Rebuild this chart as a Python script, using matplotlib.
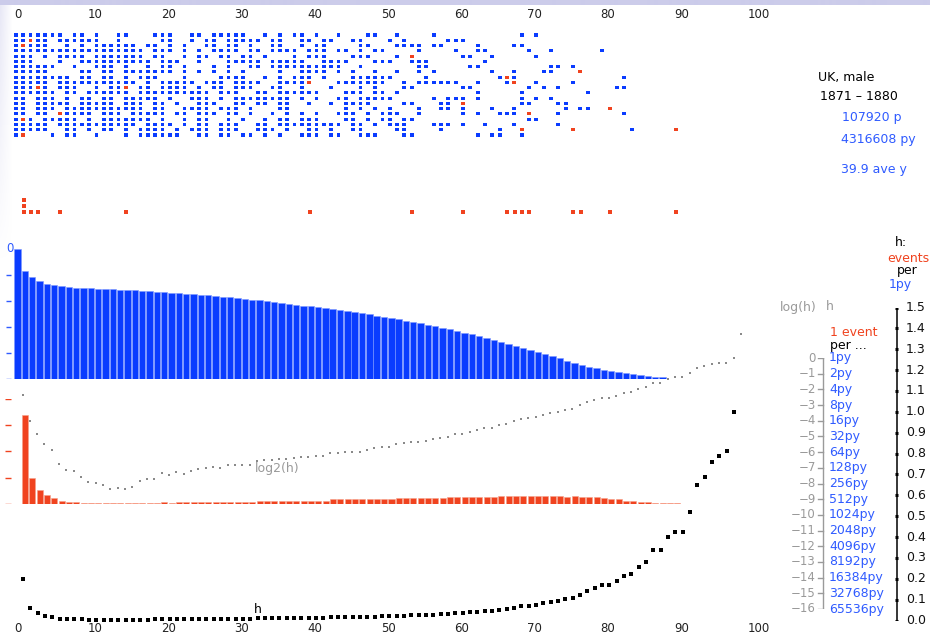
import numpy as np
import matplotlib.pyplot as plt

W, H = 930, 635
X0, XS = 14.3, 7.33          # age 0 starts at px 14.3, one year = 7.33 px

BLUE = '#0a3cff'
LBLUE = '#2f5bff'
RED = '#f0431f'
GRAY = '#9a9a9a'

# ---- data ----
axis_ticks = [0, 10, 20, 30, 40, 50, 60, 70, 80, 90, 100]

# dot grid: filled columns (ages) for each of the 20 rows
grid_rows = [
    [0,1,2,3,4,5,6,8,9,11,14,15,19,20,21,24,25,27,28,29,30,31,34,36,38,39,41,44,48,49,52,57,69,71],
    [0,1,2,3,4,6,7,8,9,10,11,14,20,21,24,26,27,29,30,31,32,33,35,36,39,40,42,43,46,47,51,53,59,60,61],
    [0,1,2,3,4,7,9,11,12,13,14,15,16,18,19,21,23,26,27,29,30,32,35,36,39,41,42,47,48,52,53,54,55,57,58,63,68,69],
    [0,1,2,3,4,5,6,7,8,9,10,11,12,13,14,15,16,17,19,20,21,23,25,27,28,29,30,32,33,35,36,37,38,40,41,42,44,45,47,49,50,55,60,63,64,70,73,80],
    [0,1,2,4,6,7,8,9,11,12,13,14,15,16,17,19,20,23,25,26,28,29,31,32,34,38,40,41,42,46,47,48,52,54,61,62,65,71],
    [0,1,2,6,9,10,11,12,13,14,15,16,17,18,20,21,22,25,29,30,31,32,33,35,36,37,38,39,42,43,44,45,49,50,51,54,55,56,64],
    [0,1,2,3,4,5,8,11,12,13,15,18,20,21,23,27,29,32,33,35,36,37,38,39,40,41,42,43,44,47,55,56,62,63,73,74,76],
    [0,1,2,3,4,9,10,12,13,15,16,17,18,19,20,21,23,25,27,29,31,36,39,40,41,42,44,46,49,52,55,57,65,68,72,73,77],
    [0,1,2,3,4,5,6,7,9,10,12,13,15,17,18,19,23,28,29,30,31,34,36,38,39,40,42,46,47,48,49,50,51,56,66,67,68,83],
    [0,1,2,3,4,6,7,8,9,10,11,12,13,14,15,16,18,20,21,22,23,24,26,27,28,30,31,32,33,36,37,38,39,40,44,45,46,47,48,49,50,53,55,56,57,58,59,60,63,67,68,71,76],
    [0,1,2,3,4,6,7,8,11,13,14,15,17,18,20,21,22,23,25,27,28,30,31,32,35,36,39,43,47,49,53,54,61,62,70,72,74,82,83],
    [0,1,2,3,4,5,7,8,10,11,12,13,14,15,17,18,19,20,21,22,23,24,25,26,28,29,30,33,34,36,37,38,39,40,41,45,46,47,49,50,52,63,69,78],
    [0,1,3,4,5,7,9,10,12,13,15,16,17,18,19,21,24,25,26,28,30,31,32,33,34,35,36,37,39,41,44,45,47,48,49,50,51,57,59,60,61,63,69,71,73],
    [0,1,3,4,5,6,7,9,10,11,12,13,15,16,17,19,20,22,25,26,27,30,31,33,34,36,37,40,43,45,46,47,48,53,54,58,59,61,69,70,74,75],
    [0,1,3,4,5,7,8,9,10,11,12,13,14,15,16,17,19,20,23,24,25,26,28,29,30,32,36,37,45,47,49,51,55,58,59,61,65,68,75,77,78,81],
    [0,1,3,4,6,7,8,9,10,12,13,14,16,17,18,19,20,22,23,25,26,27,29,30,32,35,37,39,41,44,45,46,48,50,51,52,55,61,63,66,67,68,70,74,83],
    [0,1,2,4,5,6,7,8,10,12,13,14,15,16,17,18,20,23,25,26,29,31,34,36,37,39,40,41,45,46,48,50,51,53,54,70,71],
    [0,1,2,3,4,6,7,8,9,10,11,12,13,14,15,16,18,19,20,21,23,25,26,28,29,30,33,34,36,37,38,39,40,41,42,43,44,46,47,49,51,52,53,57,58,59,61,64,68,74],
    [0,1,2,3,4,7,8,10,12,13,15,17,18,19,20,22,24,25,26,28,29,30,33,34,35,37,40,41,43,46,47,52,53,58,66,69,76,84,90],
    [0,1,5,7,8,11,15,17,18,19,20,21,22,25,26,28,29,31,32,34,36,39,40,41,43,44,47,48,49,53,54,63,65,66,69],
]
# (row, age) cells that are events
red_cells = [(2, 1), (16, 1), (19, 1), (1, 2), (10, 3), (15, 6), (10, 15), (9, 40),
             (4, 54), (13, 61), (8, 67), (9, 68), (18, 69), (15, 70), (18, 76),
             (7, 77), (14, 81), (18, 90)]

# survivors (share of starting population), ages 0..88
survivors = [1.0, .827, .778, .748, .729, .722, .714, .706, .698, .698,
             .698, .688, .688, .688, .681, .681, .681, .673, .673, .665,
             .665, .658, .658, .650, .650, .642, .642, .635, .627, .627,
             .619, .612, .604, .604, .596, .588, .581, .573, .565, .558,
             .558, .550, .543, .535, .527, .518, .510, .502, .493, .484,
             .475, .466, .456, .445, .434, .424, .413, .402, .390, .379,
             .366, .353, .339, .325, .311, .297, .282, .267, .252, .235,
             .219, .204, .188, .172, .157, .135, .119, .104, .088, .081,
             .065, .058, .048, .040, .032, .025, .017, .009, .009]

# deaths per 1000 births, ages 0..89
deaths = [169, 50, 26.6, 16.5, 12, 6.3, 3.8, 3.8, 1.9, 1.9,
          1.9, 1.9, 1.9, 1.9, 1.9, 1.9, 1.9, 1.9, 1.9, 3.8,
          1.9, 3.8, 3.8, 3.8, 3.8, 3.8, 3.8, 3.8, 3.8, 3.8,
          3.8, 3.8, 6.0, 6.0, 6.0, 6.0, 6.0, 6.0, 6.0, 6.0,
          6.0, 6.0, 8.9, 8.9, 8.9, 8.9, 8.9, 8.9, 8.9, 8.9,
          8.9, 10.8, 10.8, 10.8, 10.8, 10.8, 10.8, 10.8, 12.7, 12.7,
          12.7, 12.7, 12.7, 12.7, 12.7, 14.6, 14.6, 14.6, 14.6, 14.6,
          14.6, 14.6, 14.6, 14.6, 12.7, 14.6, 12.7, 12.7, 12.7, 10.8,
          8.9, 8.9, 6.3, 6.3, 4.4, 4.4, 2.5, 2.5, 2.5, 2.5]

# hazard h (events per person-year), ages 0..98
hazard = [.197, .062, .0354, .0221, .0170, .0091, .0071, .0067, .0053, .0042,
          .0040, .0037, .0031, .0032, .0030, .0034, .0044, .0047, .0048, .0061,
          .0057, .0064, .0060, .0069, .0073, .0077, .0080, .0077, .0087, .0087,
          .0087, .0088, .0104, .0109, .0109, .0115, .0115, .0121, .0124, .0127,
          .0132, .0133, .0153, .0153, .0160, .0160, .0160, .0175, .0185, .0194,
          .0194, .0221, .0234, .0245, .0245, .0256, .0280, .0292, .0306, .0354,
          .0354, .0385, .0421, .0448, .0461, .0511, .0533, .0608, .0675, .0708,
          .0738, .0819, .0890, .0934, .1015, .1066, .1232, .1406, .1539, .168,
          .168, .187, .213, .225, .257, .281, .337, .337, .40, .426,
          .426, .52, .65, .69, .76, .79, .81, 1.0, 2.9]

h_ticks = ['0.0', '0.1', '0.2', '0.3', '0.4', '0.5', '0.6', '0.7', '0.8', '0.9',
           '1.0', '1.1', '1.2', '1.3', '1.4', '1.5']
log_ticks = [0, -1, -2, -3, -4, -5, -6, -7, -8, -9, -10, -11, -12, -13, -14, -15, -16]
py_labels = ['1py', '2py', '4py', '8py', '16py', '32py', '64py', '128py', '256py',
             '512py', '1024py', '2048py', '4096py', '8192py', '16384py',
             '32768py', '65536py']

# ---- layout ----
fig = plt.figure(figsize=(W / 100, H / 100), dpi=100)
fig.patch.set_facecolor('white')


def band(top, bottom, vtop, vbottom):
    ax = fig.add_axes([0, 1 - bottom / H, 1, (bottom - top) / H])
    ax.set_xlim(-X0 / XS, (W - X0) / XS)
    ax.set_ylim(vbottom, vtop)
    ax.axis('off')
    return ax


def dx(px):
    return (px - X0) / XS


def ftext(x, y, s, **kw):
    kw.setdefault('va', 'center')
    kw.setdefault('fontsize', 9)
    fig.text(x / W, 1 - y / H, s, **kw)


# window frame tint
bg = fig.add_axes([0, 0, 1, 1], zorder=-5)
bg.axis('off')
grad = np.ones((H, W, 4))
grad[..., :3] = [0.80, 0.80, 0.92]
yy, xx = np.mgrid[0:H, 0:W]
alpha = np.zeros((H, W))
alpha[yy < 5] = 1.0
left = (xx < 12) & (yy < 260)
alpha[left] = np.maximum(alpha[left], 0.45 * (1 - yy[left] / 260) * (1 - xx[left] / 12))
grad[..., 3] = alpha
bg.imshow(grad, extent=[0, 1, 0, 1], aspect='auto')

# top tick labels
ax_top = band(5, 25, 1, 0)
for t in axis_ticks:
    ax_top.text(t, 0.5, str(t), ha='left', va='center', fontsize=8.5, color='#222222')

# dot grid
ax_g = band(35, 135, 0, 19)
for r, cols in enumerate(grid_rows):
    c = np.array(cols) + 0.22
    ax_g.bar(c, 0.58, bottom=r - 0.29, width=0.52, color=BLUE, linewidth=0,
             clip_on=False)
for r, c in red_cells:
    ax_g.bar(c + 0.22, 0.58, bottom=r - 0.29, width=0.52, color=RED, linewidth=0,
             clip_on=False)

# event strip (stacked per age)
ax_e = band(200, 212, 2, 0)
ev = {}
for r, c in red_cells:
    ev[c] = ev.get(c, 0) + 1
for c, n in ev.items():
    for k in range(n):
        ax_e.bar(c + 0.28, 0.67, bottom=k - 0.33, width=0.55, color=RED, linewidth=0,
                 clip_on=False)

# survivors
ax_s = band(248.5, 378.5, 1, 0)
ax_s.bar(np.arange(len(survivors)), survivors, width=0.87, align='edge',
         color=BLUE, edgecolor='#7d98ff', linewidth=0.4)
for v in [0, 0.2, 0.4, 0.6, 0.8]:
    ax_s.plot([dx(6), dx(11)], [v, v], color=LBLUE, lw=1, solid_capstyle='butt')
ax_s.text(dx(10), 1.0, '0', ha='center', va='center', fontsize=8.5, color=LBLUE)

# deaths
ax_d = band(398.8, 504, 200, 0)
ax_d.bar(np.arange(len(deaths)) + 1.05, deaths, width=0.82, align='edge',
         color=RED, edgecolor='#f6a08a', linewidth=0.4)
for v in [0, 50, 100, 150, 200]:
    ax_d.plot([dx(5), dx(11)], [v, v], color=RED, lw=1, solid_capstyle='butt')

# log2(h)
hz = np.array(hazard)
ax_l = band(358, 609, 0, -16)
ax_l.scatter(np.arange(len(hz)) + 1.12, np.log2(hz), marker='s', s=3.5,
             color='#8a8a8a', linewidths=0, clip_on=False)
ax_l.text(dx(255), np.log2(hz[32]) - 0.45, 'log2(h)', ha='left', va='center',
          fontsize=9, color=GRAY)

# h
ax_h = band(307.5, 620.5, 1.5, 0)
keep = hz <= 1.5
ax_h.scatter((np.arange(len(hz)) + 1.18)[keep], hz[keep], marker='s', s=6,
             color='black', linewidths=0, clip_on=False)
ax_h.text(dx(258), 0.055, 'h', ha='center', va='center', fontsize=9, color='black')
ax_h.plot([dx(19), dx(775)], [-0.007, -0.007], color='black', lw=1.2)
for t in axis_ticks:
    ax_h.text(t, -0.039, str(t), ha='left', va='center', fontsize=8.5, color='#222222')

# right h axis
ax_h.plot([dx(896.5), dx(896.5)], [-0.013, 1.51], color='black', lw=1.1)
for i, lab in enumerate(h_ticks):
    v = i / 10
    ax_h.plot([dx(894.5), dx(898)], [v, v], color='black', lw=2.2, solid_capstyle='butt')
    ax_h.text(dx(906), v, lab, ha='left', va='center', fontsize=9, color='#111111')

# log(h) / h table
ax_l.plot([dx(778), dx(880)], [2.6, 2.6], color=GRAY, lw=1)
ax_l.plot([dx(822.7), dx(822.7)], [2.8, -16.2], color=GRAY, lw=1)
for k, lab in zip(log_ticks, py_labels):
    ax_l.plot([dx(818), dx(822.7)], [k, k], color=GRAY, lw=1)
    ax_l.text(dx(816), k, str(k).replace('-', '\u2212'), ha='right', va='center',
              fontsize=8.5, color=GRAY)
    ax_l.text(dx(829), k, lab, ha='left', va='center', fontsize=9, color=LBLUE)

ftext(780, 307, 'log(h)', color=GRAY)
ftext(826, 307, 'h', color=GRAY)
ftext(830, 332, '1 event', color=RED)
ftext(830, 345, 'per ...', color='black')

ftext(895, 242, 'h:', color='black')
ftext(887, 258, 'events', color=RED)
ftext(897, 271, 'per', color='black')
ftext(889, 284, '1py', color=LBLUE)

ftext(818, 77, 'UK, male', color='black')
ftext(820, 97, '1871 \u2013 1880', color='black')
ftext(842, 117, '107920 p', color=LBLUE)
ftext(841, 139, '4316608 py', color=LBLUE)
ftext(841, 170, '39.9 ave y', color=LBLUE)

fig.savefig('out.png', dpi=100)
